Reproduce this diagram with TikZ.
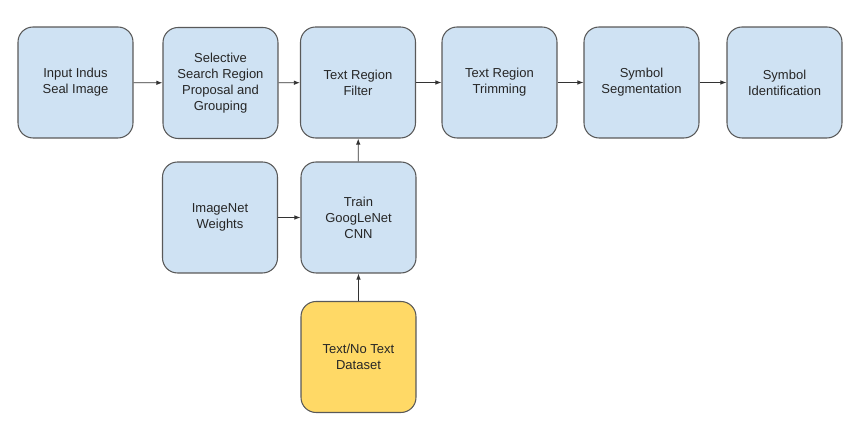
\documentclass[tikz,border=0pt]{standalone}
\usepackage{fontspec}
\setmainfont{Liberation Sans}
\usepackage{xcolor}
\usetikzlibrary{arrows.meta}
\definecolor{boxblue}{HTML}{CFE2F3}
\definecolor{boxyellow}{HTML}{FFD966}
\definecolor{boxline}{HTML}{595959}

\begin{document}
\begin{tikzpicture}[x=0.02cm, y=-0.02cm,
    stage/.style={draw=boxline, line width=0.6pt, fill=boxblue, rounded corners=0.3cm,
        minimum width=2.3cm, minimum height=2.22cm, align=center,
        font=\fontsize{7.4}{9.1}\selectfont, text=black!85},
    data/.style={stage, fill=boxyellow},
    flow/.style={-{Latex[length=3.5pt,width=2.6pt]}, line width=0.5pt, draw=black!80}]
    \useasboundingbox (0,0) rectangle (860,421);
    \node[stage] (input) at (75.5,82.5) {Input Indus\\Seal Image};
    \node[stage] (search) at (220.5,83) {Selective\\Search Region\\Proposal and\\Grouping};
    \node[stage] (filter) at (358,82.5) {Text Region\\Filter};
    \node[stage] (trim) at (499.5,82.5) {Text Region\\Trimming};
    \node[stage] (segment) at (641.5,82.5) {Symbol\\Segmentation};
    \node[stage] (ident) at (784.5,82.5) {Symbol\\Identification};
    \node[stage] (weights) at (220,217.5) {ImageNet\\Weights};
    \node[stage] (train) at (358.5,217.5) {Train\\GoogLeNet\\CNN};
    \node[data] (dataset) at (358.5,357) {Text/No Text\\Dataset};
    \draw[flow] (input) -- (search);
    \draw[flow] (search) -- (filter);
    \draw[flow] (filter) -- (trim);
    \draw[flow] (trim) -- (segment);
    \draw[flow] (segment) -- (ident);
    \draw[flow] (weights) -- (train);
    \draw[flow] (train) -- (filter);
    \draw[flow] (dataset) -- (train);
\end{tikzpicture}
\end{document}
